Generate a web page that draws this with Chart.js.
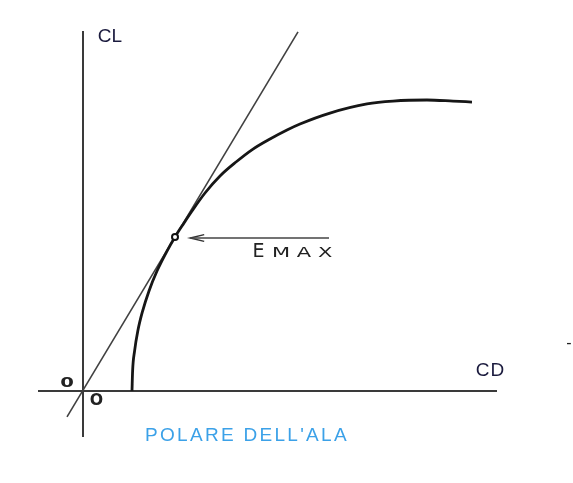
<!DOCTYPE html>
<html lang="it">
<head>
<meta charset="utf-8">
<title>Polare dell'ala</title>
<script src="https://cdn.jsdelivr.net/npm/chart.js"></script>
<style>
    html, body { margin: 0; padding: 0; background: #fff; }
    #wrap { width: 573px; height: 483px; position: relative; }
</style>
</head>
<body>
<div id="wrap"><canvas id="polarChart"></canvas></div>
<script>
    // polar curve CL(CD)
    const cdValues = [0.01225, 0.0124, 0.0129, 0.0137, 0.0149, 0.0165, 0.0185, 0.021, 0.023, 0.02525, 0.02725, 0.0305, 0.03425, 0.03825, 0.0425, 0.04675, 0.051, 0.05425, 0.06175, 0.071, 0.0775, 0.086, 0.0925, 0.09725];
    const clValues = [0, 0.083, 0.167, 0.25, 0.333, 0.417, 0.5, 0.583, 0.642, 0.7, 0.75, 0.825, 0.896, 0.954, 1.008, 1.05, 1.0875, 1.1125, 1.158, 1.196, 1.208, 1.2125, 1.208, 1.204];

    // tangent from the origin
    const tangentCd = [-0.004, 0.05375];
    const tangentCl = [-0.108, 1.496];

    // point of max efficiency
    const emaxCd = [0.023];
    const emaxCl = [0.642];

    // axes extent
    const axisCd = [-0.01125, 0.1035];
    const axisCl = [-0.192, 1.5];

    // arrow pointing at E max
    const arrowCd = [0.0615, 0.0268];
    const arrowCl = 0.6375;

    // the point marker makes Chart.js inset the chart area by 5px
    const xMin = -0.0195, xMax = 0.12125;
    const yMin = -0.3625, yMax = 1.6083;

    const pts = (xs, ys) => xs.map((x, i) => ({ x: x, y: Array.isArray(ys) ? ys[i] : ys }));

    // text labels, placed in data coordinates
    const labels = [
        { text: 'CL', cd: 0.0037, cl: 1.454, font: '19px "Liberation Sans"', color: '#1b1b3e' },
        { text: 'CD', cd: 0.0982, cl: 0.062, font: '19px "Liberation Sans"', color: '#1b1b3e', spacing: '1px' },
        { text: '0', cd: -0.0057, cl: 0.0167, font: 'bold 14px "DejaVu Sans"', color: '#222', sx: 1.4 },
        { text: 'O', cd: 0.0017, cl: -0.0583, font: 'bold 15px "DejaVu Sans"', color: '#222', sx: 1.05 },
        { text: 'E', cd: 0.0424, cl: 0.558, font: '19px "DejaVu Sans"', color: '#222', sx: 1.0 },
        { text: 'MAX', cd: 0.04725, cl: 0.558, font: '14px "DejaVu Sans"', color: '#222', sx: 1.5, spacing: '4.5px' },
        { text: "POLARE DELL'ALA", cd: 0.0155, cl: -0.208, font: '19px "Liberation Sans"', color: '#3ba1e8', spacing: '2.3px' },
        { text: '-', cd: 0.1208, cl: 0.18, font: '16px "Liberation Sans"', color: '#222' }
    ];

    const labelPlugin = {
        id: 'labels',
        afterDatasetsDraw(chart) {
            const c = chart.ctx;
            const xs = chart.scales.x, ys = chart.scales.y;
            labels.forEach(l => {
                c.save();
                c.textAlign = 'left';
                c.textBaseline = 'alphabetic';
                c.font = l.font;
                c.fillStyle = l.color;
                c.letterSpacing = l.spacing || '0px';
                c.translate(xs.getPixelForValue(l.cd), ys.getPixelForValue(l.cl));
                c.scale(l.sx || 1, 1);
                c.fillText(l.text, 0, 0);
                c.restore();
            });
        }
    };

    const ctx = document.getElementById('polarChart').getContext('2d');
    new Chart(ctx, {
        type: 'scatter',
        data: {
            datasets: [
                {
                    data: pts(emaxCd, emaxCl),
                    pointRadius: 3,
                    pointHoverRadius: 3,
                    pointBackgroundColor: '#fff',
                    pointBorderColor: '#111',
                    pointBorderWidth: 2
                },
                {
                    data: pts(cdValues, clValues),
                    showLine: true,
                    cubicInterpolationMode: 'monotone',
                    borderColor: '#161616',
                    borderWidth: 2.8,
                    pointRadius: 0
                },
                {
                    data: pts(tangentCd, tangentCl),
                    showLine: true,
                    borderColor: '#404040',
                    borderWidth: 1.6,
                    pointRadius: 0
                },
                {
                    data: pts(arrowCd, arrowCl),
                    showLine: true,
                    borderColor: '#444',
                    borderWidth: 1.5,
                    pointRadius: 0
                },
                {
                    // arrow head
                    data: [
                        { x: arrowCd[1] + 0.0035, y: arrowCl + 0.014 },
                        { x: arrowCd[1], y: arrowCl },
                        { x: arrowCd[1] + 0.0035, y: arrowCl - 0.014 }
                    ],
                    showLine: true,
                    borderColor: '#333',
                    borderWidth: 1.5,
                    pointRadius: 0
                },
                {
                    data: pts([0, 0], axisCl),
                    showLine: true,
                    borderColor: '#3a3a3a',
                    borderWidth: 2,
                    pointRadius: 0
                },
                {
                    data: pts(axisCd, [0, 0]),
                    showLine: true,
                    borderColor: '#3a3a3a',
                    borderWidth: 2,
                    pointRadius: 0
                }
            ]
        },
        options: {
            responsive: true,
            maintainAspectRatio: false,
            animation: false,
            layout: { padding: 0 },
            plugins: {
                legend: { display: false },
                tooltip: { enabled: false }
            },
            scales: {
                x: { type: 'linear', display: false, min: xMin, max: xMax },
                y: { type: 'linear', display: false, min: yMin, max: yMax }
            }
        },
        plugins: [labelPlugin]
    });
</script>
</body>
</html>
